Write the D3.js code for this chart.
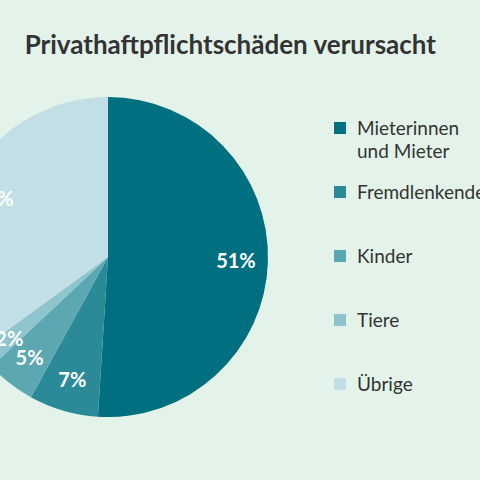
<!DOCTYPE html>
<html><head><meta charset="utf-8">
<script src="https://cdn.jsdelivr.net/npm/d3@7"></script>
<style>body{margin:0;background:#e4f3ea;}svg{display:block;}</style>
</head><body><svg width="480" height="480"></svg>
<script>
const categories = ["Mieterinnen\nund Mieter","Fremdlenkende","Kinder","Tiere","Übrige"];
const values = [51,7,5,2,35];
const colors = ["#006f7f","#2b8a97","#5ba8b3","#8ec4cc","#c1dfe4"];
const title = "Privathaftpflichtschäden verursacht";
const svg = d3.select("svg");
const font = "Lato,'Noto Sans',sans-serif";
svg.append("rect").attr("width",480).attr("height",480).attr("fill","#e4f3ea");
svg.append("text").attr("x",436).attr("y",54).attr("text-anchor","end")
  .attr("font-family",font).attr("font-weight","bold").attr("font-size",26).attr("fill","#333").text(title);
const cx=108, cy=257, r=160;
const pie = d3.pie().sort(null)(values);
const arc = d3.arc().innerRadius(0).outerRadius(r);
const lab = d3.arc().innerRadius(r*0.8).outerRadius(r*0.8);
const g = svg.append("g").attr("transform",`translate(${cx},${cy})`);
g.selectAll("path").data(pie).join("path").attr("d",arc).attr("fill",(d,i)=>colors[i]);
g.selectAll("text").data(pie).join("text").attr("transform",d=>`translate(${lab.centroid(d)})`)
  .attr("text-anchor","middle").attr("dy","0.35em").attr("font-family",font).attr("font-weight","bold")
  .attr("font-size",20).attr("fill","#fff").text(d=>d.data+"%");
const y = d3.scalePoint().domain(categories).range([128,384]);
const lg = svg.append("g");
categories.forEach((c,i)=>{
  lg.append("rect").attr("x",334).attr("y",y(c)-6).attr("width",12).attr("height",12).attr("fill",colors[i]);
  const t = lg.append("text").attr("x",357).attr("y",y(c)).attr("font-family",font)
    .attr("font-size",19).attr("fill","#333");
  c.split("\n").forEach((s,j)=>t.append("tspan").attr("x",357).attr("dy",j?"1.25em":"0.35em").text(s));
});
</script></body></html>
